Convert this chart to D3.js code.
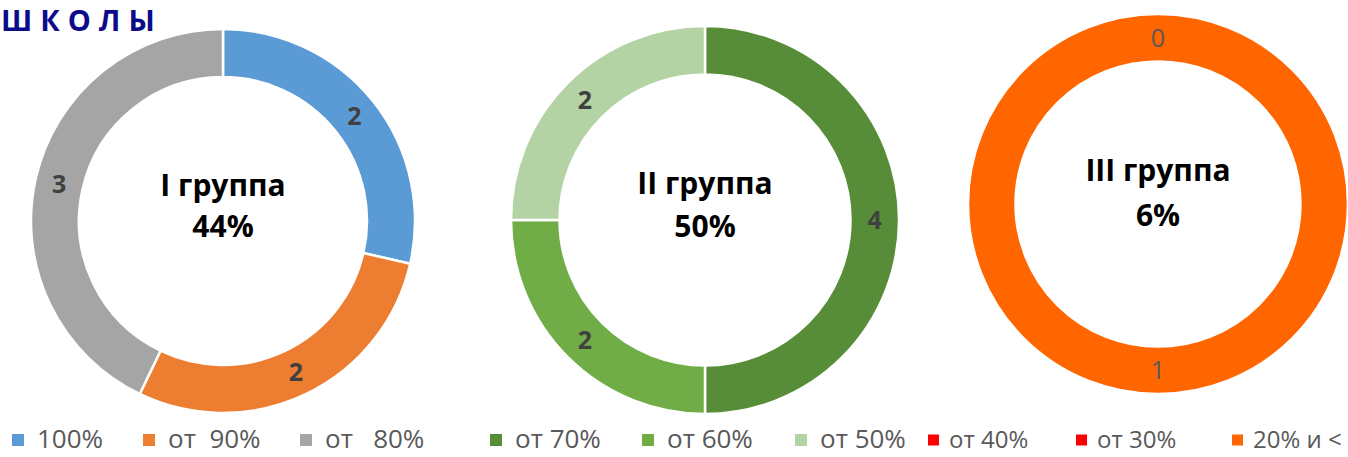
<!DOCTYPE html>
<html>
<head>
<meta charset="utf-8">
<script src="https://cdn.jsdelivr.net/npm/d3@7"></script>
<style>
  body { margin: 0; background: #fff; }
  svg { display: block; }
</style>
</head>
<body>
<svg id="chart" width="1348" height="457"></svg>
<script>
// data
const groupNames = ['I группа', 'II группа', 'III группа'];
const groupShares = ['44%', '50%', '6%'];
const group1Cats = ['100%', 'от  90%', 'от   80%'];
const group1Vals = [2, 2, 3];
const group2Cats = ['от 70%', 'от 60%', 'от 50%'];
const group2Vals = [4, 2, 2];
const group3Cats = ['от 30%', '20% и <'];
const group3Vals = [0, 1];
const legendCats = ['100%', 'от  90%', 'от   80%', 'от 70%', 'от 60%', 'от 50%', 'от 40%', 'от 30%', '20% и <'];

const color = d3.scaleOrdinal()
    .domain(legendCats)
    .range(['#5b9bd5', '#ed7d31', '#a5a5a5', '#578d38', '#70ad47', '#b4d3a4', '#ff0000', '#ff0000', '#ff6600']);

const svg = d3.select('#chart');

// title fragment top-left
svg.append('text')
    .attr('x', 1)
    .attr('y', 31)
    .style('font-family', 'Open Sans, sans-serif')
    .style('font-weight', 'bold')
    .style('font-size', '29px')
    .style('letter-spacing', '8px')
    .style('fill', '#0c0c8a')
    .text('ШКОЛЫ');

const donuts = [
    {cats: group1Cats, vals: group1Vals, cx: 223, cy: 221, r: 192, bold: true, ty: [185, 226]},
    {cats: group2Cats, vals: group2Vals, cx: 705, cy: 220, r: 194, bold: true, ty: [183, 226]},
    {cats: group3Cats, vals: group3Vals, cx: 1158, cy: 204, r: 190, bold: false, ty: [170, 215]}
];

const pie = d3.pie().sort(null).value(d => d.v);

donuts.forEach((dn, i) => {
    const g = svg.append('g').attr('transform', `translate(${dn.cx}, ${dn.cy})`);
    const arc = d3.arc().innerRadius(dn.r * 0.75).outerRadius(dn.r);
    const data = pie(dn.cats.map((c, k) => ({c: c, v: dn.vals[k]})));

    g.selectAll('path')
        .data(data)
        .join('path')
        .attr('d', arc)
        .attr('fill', d => color(d.data.c))
        .attr('stroke', '#fff')
        .attr('stroke-width', 2.5);

    g.selectAll('text.lbl')
        .data(data)
        .join('text')
        .attr('class', 'lbl')
        .attr('transform', d => `translate(${arc.centroid(d)})`)
        .attr('text-anchor', 'middle')
        .attr('dy', '0.36em')
        .style('font-family', 'Open Sans, sans-serif')
        .style('font-size', '25px')
        .style('font-weight', dn.bold ? 'bold' : 'normal')
        .style('fill', dn.bold ? '#404040' : '#595959')
        .text(d => d.data.v);

    const txt = [groupNames[i], groupShares[i]];
    txt.forEach((t, k) => {
        svg.append('text')
            .attr('x', dn.cx)
            .attr('y', dn.ty[k])
            .attr('dy', '0.36em')
            .attr('text-anchor', 'middle')
            .style('font-family', 'Open Sans, sans-serif')
            .style('font-weight', 'bold')
            .style('font-size', '30px')
            .style('fill', '#000')
            .text(t);
    });
});

// legend
const legendX = [12, 143, 300, 490, 642, 795, 928, 1076, 1232];
const legendSize = [26, 26, 26, 26, 26, 26, 24, 24, 24];
const lg = svg.append('g').attr('transform', 'translate(0, 439)');
legendCats.forEach((c, i) => {
    const item = lg.append('g').attr('transform', `translate(${legendX[i]}, 0)`);
    const sq = i < 6 ? 12 : 11;
    item.append('rect')
        .attr('x', 0)
        .attr('y', -sq / 2 + 1)
        .attr('width', sq)
        .attr('height', sq)
        .attr('fill', color(c));
    item.append('text')
        .attr('x', i < 6 ? 25 : 21)
        .attr('y', 0)
        .attr('dy', '0.36em')
        .style('font-family', 'Open Sans, sans-serif')
        .style('font-size', legendSize[i] + 'px')
        .style('fill', '#595959')
        .style('white-space', 'pre')
        .text(c);
});
</script>
</body>
</html>
